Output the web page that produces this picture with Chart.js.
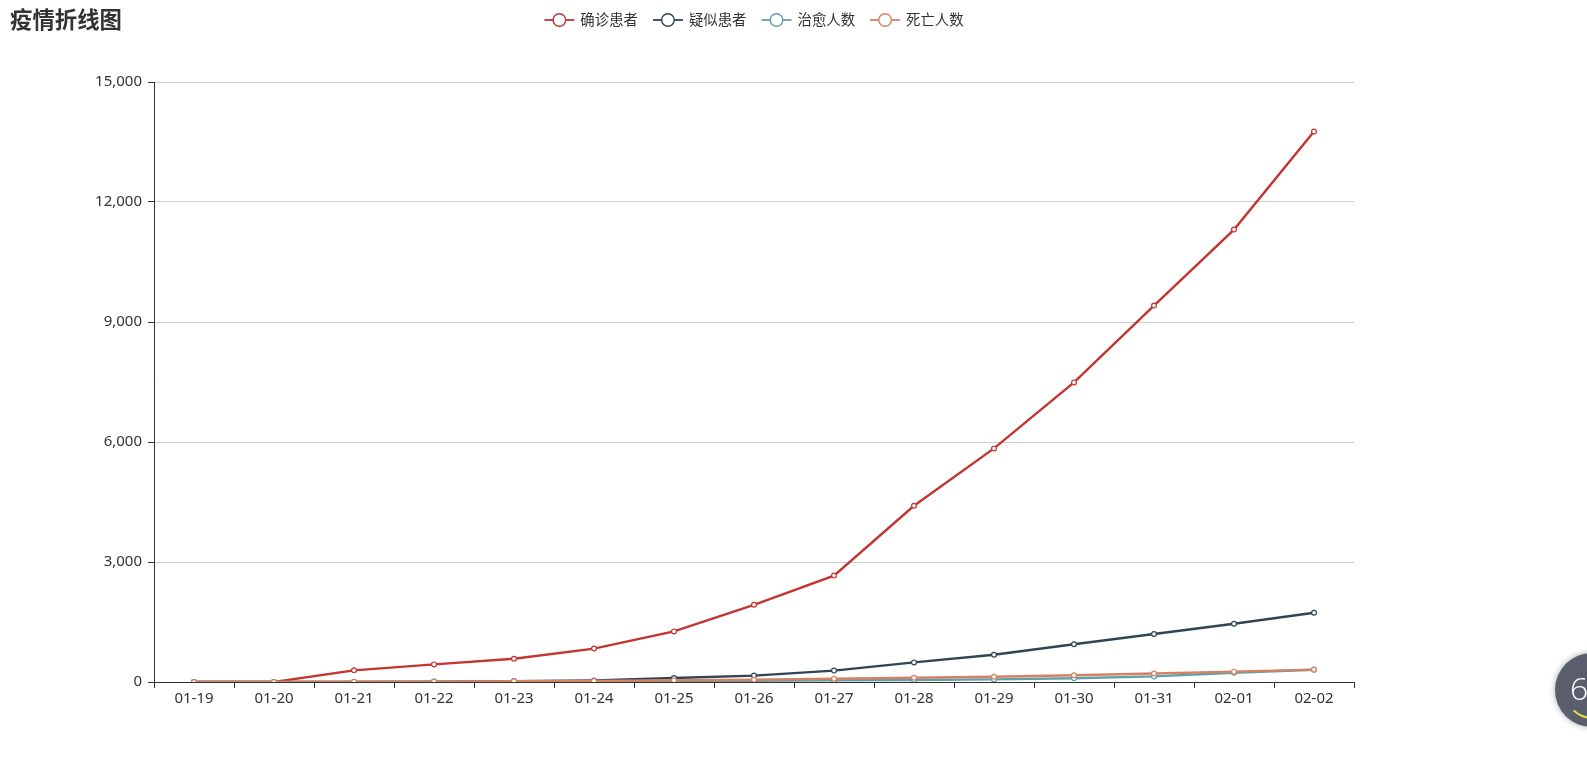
<!DOCTYPE html>
<html>
<head>
<meta charset="utf-8">
<script src="https://cdn.jsdelivr.net/npm/chart.js@4.4.0/dist/chart.umd.min.js"></script>
<style>
  body { margin: 0; background: #fff; overflow: hidden; }
  #wrap { position: relative; width: 1587px; height: 777px; }
  #ball {
    position: absolute; left: 1555px; top: 653px; width: 74px; height: 74px;
    border-radius: 50%; background: #5a5e6c; box-shadow: 0 0 6px rgba(0,0,0,0.35);
    color: #fff; font: 300 32px 'Open Sans', sans-serif; line-height: 70px;
    text-indent: 15px; overflow: hidden;
  }
  #ball .arc {
    position: absolute; left: 10px; top: 12px; width: 54px; height: 54px;
    border-radius: 50%; border: 2px solid transparent; border-bottom-color: #e8e14a;
    box-sizing: border-box;
  }
</style>
</head>
<body>
<div id="wrap">
  <canvas id="canvas" width="1587" height="777"></canvas>
  <div id="ball">6<div class="arc"></div></div>
</div>
<script>
const FONT = "'Noto Sans', 'Noto Sans CJK SC', sans-serif";

const titleText = '疫情折线图';
const dates = ['01-19', '01-20', '01-21', '01-22', '01-23', '01-24', '01-25', '01-26',
               '01-27', '01-28', '01-29', '01-30', '01-31', '02-01', '02-02'];
const confirmed = [0, 0, 291, 440, 580, 835, 1265, 1930, 2660, 4405, 5840, 7490, 9410, 11310, 13760];
const suspected = [0, 0, 0, 10, 20, 40, 100, 160, 285, 490, 680, 945, 1200, 1455, 1730];
const cured = [0, 0, 0, 0, 5, 10, 20, 30, 40, 50, 65, 95, 140, 230, 305];
const dead = [0, 0, 6, 9, 17, 25, 42, 56, 80, 106, 132, 170, 213, 259, 310];
const yTicks = [0, 3000, 6000, 9000, 12000, 15000];

const seriesNames = ['确诊患者', '疑似患者', '治愈人数', '死亡人数'];
const seriesData = [confirmed, suspected, cured, dead];
const colors = ['#c23531', '#2f4554', '#61a0a8', '#d48265'];

function makeDataset(i) {
    return {
        label: seriesNames[i],
        data: seriesData[i],
        borderColor: colors[i],
        backgroundColor: '#fff',
        pointBackgroundColor: '#fff',
        pointBorderColor: colors[i],
        pointBorderWidth: 1.2,
        pointRadius: 2.4,
        borderWidth: 2.4,
        tension: 0,
        order: 4 - i
    };
}

// title + echarts-like legend (line with hollow circle)
const decorPlugin = {
    id: 'decor',
    afterDraw(chart) {
        const ctx = chart.ctx;
        ctx.save();
        ctx.fillStyle = '#333';
        ctx.font = 'bold 22.4px ' + FONT;
        ctx.textBaseline = 'middle';
        ctx.textAlign = 'left';
        ctx.fillText(titleText, 10, 22);

        ctx.font = '14.4px ' + FONT;
        const iconW = 30, textGap = 6, itemGap = 15;
        let widths = seriesNames.map(n => ctx.measureText(n).width);
        let total = 0;
        widths.forEach(w => total += iconW + textGap + w);
        total += itemGap * (seriesNames.length - 1);
        let x = 754 - total / 2;
        const y = 20;
        seriesNames.forEach((name, i) => {
            ctx.strokeStyle = colors[i];
            ctx.lineWidth = 1.8;
            ctx.beginPath();
            ctx.moveTo(x, y);
            ctx.lineTo(x + iconW, y);
            ctx.stroke();
            ctx.beginPath();
            ctx.arc(x + iconW / 2, y, 6.3, 0, Math.PI * 2);
            ctx.fillStyle = '#fff';
            ctx.fill();
            ctx.lineWidth = 1.4;
            ctx.stroke();
            ctx.fillStyle = '#333';
            ctx.fillText(name, x + iconW + textGap, y + 0.5);
            x += iconW + textGap + widths[i] + itemGap;
        });
        ctx.restore();
    }
};

Chart.defaults.font.family = FONT;
Chart.defaults.font.size = 15;
Chart.defaults.color = '#333';

new Chart(document.getElementById('canvas').getContext('2d'), {
    type: 'line',
    data: {
        labels: dates,
        datasets: seriesNames.map((n, i) => makeDataset(i))
    },
    options: {
        responsive: false,
        animation: false,
        layout: { padding: { top: 82, right: 233, bottom: 65, left: 0 } },
        plugins: {
            legend: { display: false },
            title: { display: false },
            tooltip: { enabled: false }
        },
        scales: {
            x: {
                type: 'category',
                offset: true,
                grid: { offset: true, drawOnChartArea: false, tickLength: 6, tickColor: '#333' },
                border: { display: true, color: '#333', width: 1 },
                ticks: { padding: 2, maxRotation: 0, autoSkip: false },
                afterFit(s) { s.height = 30; }
            },
            y: {
                min: 0,
                max: 15000,
                afterBuildTicks(s) { s.ticks = yTicks.map(v => ({ value: v })); },
                grid: { color: '#ccc', tickLength: 6, tickColor: '#333' },
                border: { display: true, color: '#333', width: 1 },
                ticks: { padding: 6 },
                afterFit(s) { s.width = 154; }
            }
        }
    },
    plugins: [decorPlugin]
});
</script>
</body>
</html>
